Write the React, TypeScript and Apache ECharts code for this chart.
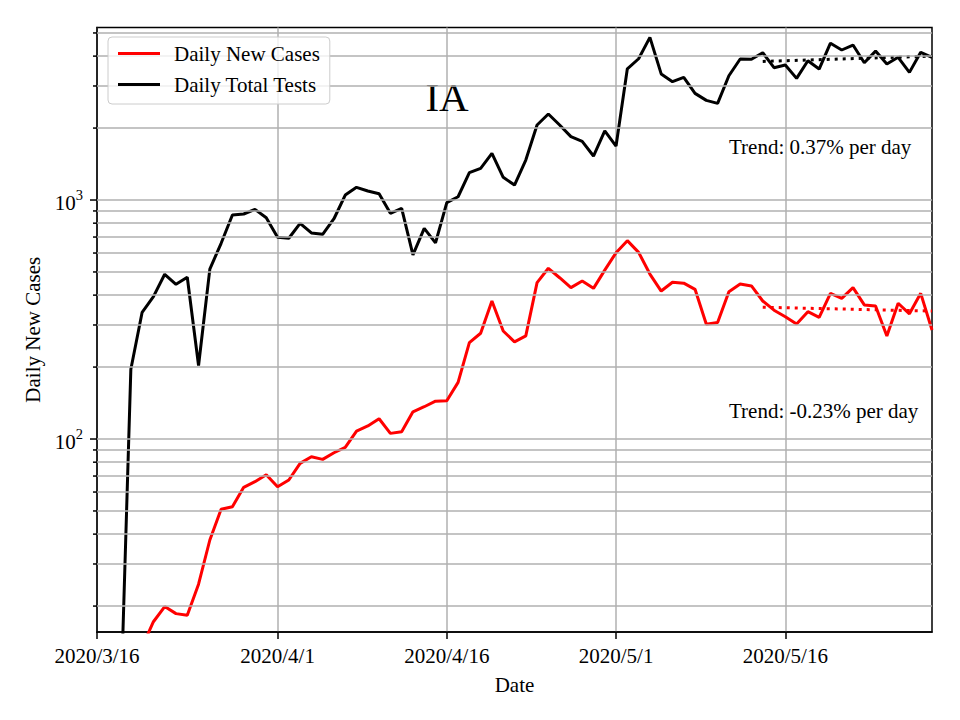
import React, { useEffect, useRef } from "react";
import * as echarts from "echarts";

// ---- data ----
const FIRST_DAY_UTC = Date.UTC(2020, 2, 16);
const DAY_COUNT = 75;
const dates: string[] = Array.from({ length: DAY_COUNT }, (_, i) => {
  const d = new Date(FIRST_DAY_UTC + i * 86400000);
  return `${d.getUTCFullYear()}/${d.getUTCMonth() + 1}/${d.getUTCDate()}`;
});

const tickDates = ["2020/3/16", "2020/4/1", "2020/4/16", "2020/5/1", "2020/5/16"];

const dailyNewCases: (number | null)[] = [
  null, null, null, null, 13.5, 17.2, 19.9, 18.6, 18.3, 24.7,
  37.8, 50.8, 52.1, 62.8, 66.3, 70.9, 63.1, 67.4, 79.1, 84.3,
  82.2, 87.6, 92.3, 108, 113.4, 121.6, 105.6, 107.3, 130, 136.5,
  144, 144.5, 172.6, 253, 277, 378, 283, 255, 270, 451,
  518, 473, 430, 458, 427, 509, 602, 676, 604, 490,
  416, 453, 449, 423, 302, 307, 413, 445, 437, 378,
  346, 325, 303, 341, 323, 407, 388, 430, 364, 360,
  270, 370, 334, 407, 286,
];

const dailyTotalTests: (number | null)[] = [
  null, null, 5.3, 196, 339, 394, 489, 444, 475, 203,
  514, 659, 866, 874, 914, 843, 698, 692, 799, 728,
  719, 835, 1049, 1130, 1091, 1063, 880, 923, 589, 761,
  662, 975, 1032, 1301, 1357, 1567, 1245, 1155, 1470, 2059,
  2291, 2059, 1841, 1760, 1528, 1945, 1682, 3540, 3900, 4790,
  3370, 3126, 3260, 2794, 2611, 2538, 3311, 3892, 3880, 4131,
  3578, 3673, 3228, 3828, 3532, 4530, 4243, 4452, 3754, 4199,
  3706, 3954, 3420, 4148, 3954,
];

const trendStartIndex = 59;
const trendEndIndex = 74;
const casesTrend = [356, 343];
const testsTrend = [3800, 4000];

const yMajorTicks = [100, 1000];
const yMinorTicks = [
  20, 30, 40, 50, 60, 70, 80, 90,
  200, 300, 400, 500, 600, 700, 800, 900,
  2000, 3000, 4000, 5000,
];
const yMin = 15.58;
const yMax = 5270;

const casesTrendText = "Trend: -0.23% per day";
const testsTrendText = "Trend: 0.37% per day";
const stateName = "IA";

const SERIF = "'Liberation Serif', 'Times New Roman', serif";
const FS = 21;

export default function App() {
  const ref = useRef<HTMLDivElement>(null);

  useEffect(() => {
    if (!ref.current) return;
    const chart = echarts.init(ref.current, null, { renderer: "svg" });
    const isTick = (_i: number, v: string) => tickDates.includes(v);

    chart.setOption({
      animation: false,
      backgroundColor: "#ffffff",
      grid: {
        left: 97,
        right: 28,
        top: 27.5,
        bottom: 88,
        show: true,
        borderColor: "#000",
        borderWidth: 1.5,
        backgroundColor: "transparent",
        outerBoundsMode: "none",
      },
      legend: {
        data: ["Daily New Cases", "Daily Total Tests"],
        orient: "vertical",
        left: 108,
        top: 37,
        z: 20,
        icon: "rect",
        itemWidth: 42,
        itemHeight: 3,
        itemGap: 10,
        padding: [6, 10, 9, 10],
        borderColor: "#cccccc",
        borderWidth: 1,
        borderRadius: 4,
        backgroundColor: "rgba(255,255,255,0.8)",
        textStyle: { fontFamily: SERIF, fontSize: FS, color: "#000", padding: [0, 0, 0, 9] },
      },
      xAxis: {
        type: "category",
        data: dates,
        boundaryGap: false,
        axisLine: { lineStyle: { color: "#000", width: 1.5 } },
        axisTick: { show: true, interval: isTick, length: 7, lineStyle: { color: "#000", width: 1.5 } },
        axisLabel: { interval: isTick, margin: 13, fontFamily: SERIF, fontSize: FS, color: "#000" },
        splitLine: { show: true, interval: isTick, lineStyle: { color: "#b0b0b0", width: 1.5 } },
        name: "Date",
        nameLocation: "middle",
        nameGap: 42,
        nameTextStyle: { fontFamily: SERIF, fontSize: FS, color: "#000" },
      },
      yAxis: {
        type: "log",
        logBase: 10,
        min: yMin,
        max: yMax,
        axisLine: { show: true, lineStyle: { color: "#000", width: 1.5 } },
        axisTick: { show: false },
        splitLine: { show: false },
        axisLabel: {
          margin: 14,
          formatter: (v: number) => {
            const e = Math.log10(v);
            if (Math.abs(e - Math.round(e)) > 1e-6) return "";
            return `{b|10}{s|${Math.round(e)}}`;
          },
          rich: {
            b: { fontFamily: SERIF, fontSize: FS, color: "#000", lineHeight: 26, verticalAlign: "bottom" },
            s: { fontFamily: SERIF, fontSize: 14.5, color: "#000", lineHeight: 14, verticalAlign: "top" },
          },
        },
        name: "Daily New Cases",
        nameLocation: "middle",
        nameGap: 54,
        nameTextStyle: { fontFamily: SERIF, fontSize: FS, color: "#000" },
      },
      series: [
        {
          name: "gridlines",
          type: "line",
          z: 1,
          data: [],
          markLine: {
            silent: true,
            symbol: ["none", "none"],
            label: { show: false },
            lineStyle: { color: "#b0b0b0", width: 1.5, type: "solid" },
            emphasis: { disabled: true },
            data: [...yMinorTicks, ...yMajorTicks].map((v) => ({ yAxis: v })),
          },
        },
        {
          name: "Daily New Cases",
          type: "line",
          data: dailyNewCases,
          color: "#ff0000",
          showSymbol: false,
          symbol: "none",
          clip: true,
          lineStyle: { color: "#ff0000", width: 3 },
          z: 3,
        },
        {
          name: "Daily Total Tests",
          type: "line",
          data: dailyTotalTests,
          color: "#000000",
          showSymbol: false,
          symbol: "none",
          clip: true,
          lineStyle: { color: "#000000", width: 3 },
          z: 3,
        },
        {
          name: "casesTrend",
          type: "line",
          data: [
            [trendStartIndex, casesTrend[0]],
            [trendEndIndex, casesTrend[1]],
          ],
          showSymbol: false,
          symbol: "none",
          lineStyle: { color: "#ff0000", width: 3, type: [3, 5] },
          z: 3,
        },
        {
          name: "testsTrend",
          type: "line",
          data: [
            [trendStartIndex, testsTrend[0]],
            [trendEndIndex, testsTrend[1]],
          ],
          showSymbol: false,
          symbol: "none",
          lineStyle: { color: "#000000", width: 3, type: [3, 5] },
          z: 3,
        },
      ],
    });

    const x0 = chart.convertToPixel({ xAxisIndex: 0 }, 0) as number;
    const tickEls: any[] = [];
    const addTick = (v: number, len: number) => {
      const y = chart.convertToPixel({ yAxisIndex: 0 }, v) as number;
      tickEls.push({
        type: "line",
        silent: true,
        shape: { x1: x0 - len, y1: y, x2: x0, y2: y },
        style: { stroke: "#000", lineWidth: 1.5 },
      });
    };
    yMajorTicks.forEach((v) => addTick(v, 7));
    yMinorTicks.forEach((v) => addTick(v, 4));

    chart.setOption({
      graphic: [
        ...tickEls,
        {
          type: "text",
          x: 447,
          y: 97,
          style: { text: stateName, fontFamily: SERIF, fontSize: 41, fill: "#000", align: "center", verticalAlign: "middle" },
        },
        {
          type: "text",
          x: 729,
          y: 147,
          style: { text: testsTrendText, fontFamily: SERIF, fontSize: FS, fill: "#000", align: "left", verticalAlign: "middle" },
        },
        {
          type: "text",
          x: 729,
          y: 411,
          style: { text: casesTrendText, fontFamily: SERIF, fontSize: FS, fill: "#000", align: "left", verticalAlign: "middle" },
        },
      ],
    });

    return () => chart.dispose();
  }, []);

  return <div ref={ref} style={{ position: "fixed", left: 0, top: 0, width: 960, height: 720 }} />;
}
